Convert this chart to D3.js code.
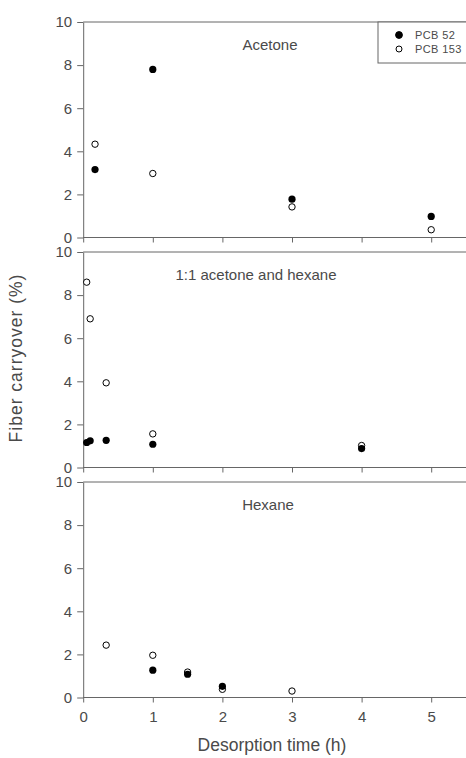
<!DOCTYPE html>
<html>
<head>
<meta charset="utf-8">
<script src="https://cdn.jsdelivr.net/npm/d3@7"></script>
<style>
  body { margin: 0; background: #fff; }
  svg text { font-family: "Liberation Sans", Arial, sans-serif; fill: #4a4a4a; }
  .axis path, .axis line { stroke: #666; }
</style>
</head>
<body>
<div class="chart"></div>
<script>
// panel titles
const solvents = ["Acetone", "1:1 acetone and hexane", "Hexane"];

// desorption time (h) and carryover (%) per panel
const acetoneX52   = [0.17, 1, 3, 5];
const acetoneY52   = [3.15, 7.8, 1.78, 0.98];
const acetoneX153  = [0.17, 1, 3, 5];
const acetoneY153  = [4.33, 2.97, 1.42, 0.36];

const mixX52  = [0.05, 0.1, 0.33, 1, 4];
const mixY52  = [1.16, 1.24, 1.26, 1.08, 0.88];
const mixX153 = [0.05, 0.1, 0.33, 1, 4];
const mixY153 = [8.6, 6.9, 3.93, 1.56, 1.02];

const hexX52  = [1, 1.5, 2];
const hexY52  = [1.27, 1.08, 0.52];
const hexX153 = [0.33, 1, 1.5, 2, 3];
const hexY153 = [2.43, 1.96, 1.18, 0.38, 0.3];

const yTicks = [0, 2, 4, 6, 8, 10];
const xTicks = [0, 1, 2, 3, 4, 5];
const seriesNames = ["PCB 52", "PCB 153"];

const panels = [
  {title: solvents[0], s52: d3.zip(acetoneX52, acetoneY52), s153: d3.zip(acetoneX153, acetoneY153), top: 22, tx: 270},
  {title: solvents[1], s52: d3.zip(mixX52, mixY52), s153: d3.zip(mixX153, mixY153), top: 252, tx: 256},
  {title: solvents[2], s52: d3.zip(hexX52, hexY52), s153: d3.zip(hexX153, hexY153), top: 482, tx: 268}
];

const W = 466, H = 758, panelH = 215.5;

const svg = d3.select(".chart").append("svg")
    .attr("width", W)
    .attr("height", H);

const x = d3.scaleLinear().domain([0, 5.5]).range([83.2, 466]);

panels.forEach((p, i) => {
  const y = d3.scaleLinear().domain([0, 10]).range([p.top + panelH, p.top]);
  const g = svg.append("g");

  // top frame line
  g.append("line")
    .attr("x1", x(0)).attr("x2", W)
    .attr("y1", y(10)).attr("y2", y(10))
    .attr("stroke", "#666");

  // y axis
  const ya = g.append("g")
    .attr("class", "axis")
    .attr("transform", "translate(" + x(0) + ",0)")
    .call(d3.axisLeft(y).tickValues(yTicks).tickFormat(d3.format("d"))
      .tickSize(6).tickSizeOuter(0).tickPadding(5));
  ya.selectAll("text").style("font-size", "15px");

  // x axis
  const xa = g.append("g")
    .attr("class", "axis")
    .attr("transform", "translate(0," + y(0) + ")")
    .call(d3.axisBottom(x).tickValues(xTicks).tickFormat(d3.format("d"))
      .tickSize(5).tickSizeOuter(0).tickPadding(9));
  xa.selectAll("text").style("font-size", "15px");
  if (i < 2) xa.selectAll("text").remove();
  xa.select(".domain").attr("d", "M" + x(0) + ",0H" + W);

  // title
  g.append("text")
    .attr("x", p.tx)
    .attr("y", y(10) + 28)
    .attr("text-anchor", "middle")
    .style("font-size", "15px")
    .text(p.title);

  // points: open first, filled on top
  g.selectAll(".open")
    .data(p.s153)
    .enter().append("circle")
      .attr("cx", d => x(d[0]))
      .attr("cy", d => y(d[1]))
      .attr("r", 3.2)
      .attr("fill", "#fff")
      .attr("stroke", "#000")
      .attr("stroke-width", 1);

  g.selectAll(".filled")
    .data(p.s52)
    .enter().append("circle")
      .attr("cx", d => x(d[0]))
      .attr("cy", d => y(d[1]))
      .attr("r", 3.6)
      .attr("fill", "#000");
});

// legend
const lg = svg.append("g");
lg.append("rect")
  .attr("x", 378).attr("y", 22)
  .attr("width", 100).attr("height", 41)
  .attr("fill", "#fff").attr("stroke", "#666");
seriesNames.forEach((name, i) => {
  lg.append("circle")
    .attr("cx", 399).attr("cy", 35 + i * 14)
    .attr("r", i == 0 ? 3.4 : 3)
    .attr("fill", i == 0 ? "#000" : "#fff")
    .attr("stroke", "#000");
  lg.append("text")
    .attr("x", 415).attr("y", 39 + i * 14)
    .style("font-size", "11px")
    .style("letter-spacing", "0.4px")
    .text(name);
});

// axis titles
svg.append("text")
  .attr("x", 272).attr("y", 751)
  .attr("text-anchor", "middle")
  .style("font-size", "17.5px")
  .text("Desorption time (h)");

svg.append("text")
  .attr("transform", "translate(22,358) rotate(-90)")
  .attr("text-anchor", "middle")
  .style("font-size", "17.5px")
  .style("letter-spacing", "1px")
  .text("Fiber carryover (%)");
</script>
</body>
</html>
